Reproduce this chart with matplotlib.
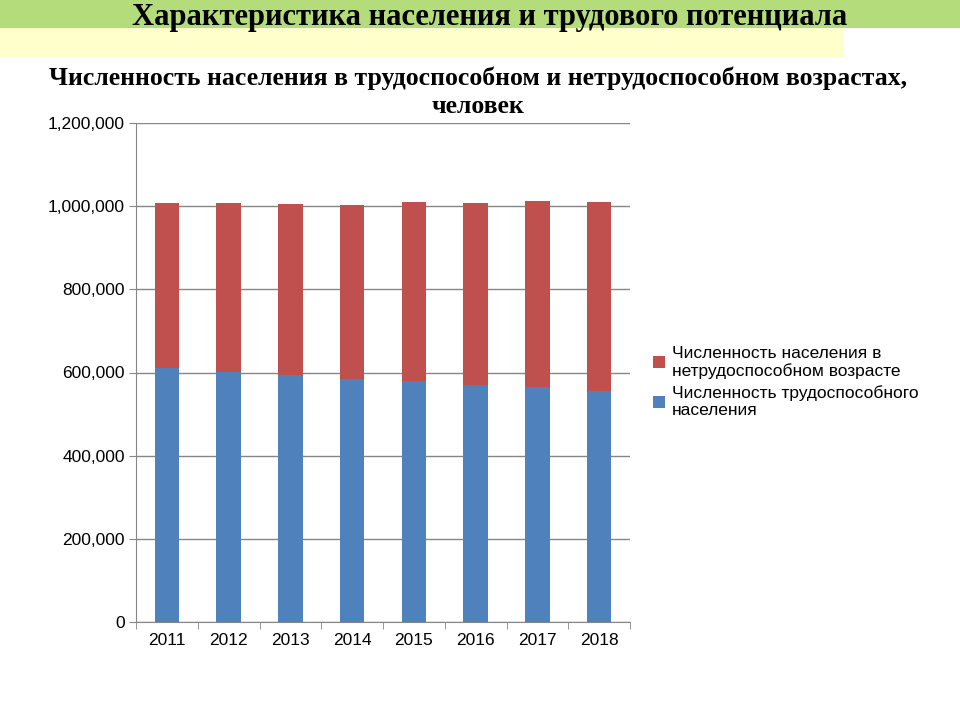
import matplotlib.pyplot as plt
from matplotlib.patches import Rectangle
from matplotlib.ticker import FuncFormatter, FixedLocator
import numpy as np

years = ['2011', '2012', '2013', '2014', '2015', '2016', '2017', '2018']
able_bodied = [610900, 602000, 593300, 583700, 580300, 570000, 565200, 554800]
not_able = [396800, 405000, 411300, 419200, 429000, 438500, 448100, 456100]
label_able = 'Численность трудоспособного\nнаселения'
label_not = 'Численность населения в\nнетрудоспособном возрасте'

BLUE = '#4F81BD'
RED = '#C0504D'
GRID = '#868686'

fig = plt.figure(figsize=(9.6, 7.2), dpi=100)

# header banner
fig.patches.append(Rectangle((0, 1 - 28 / 720), 1, 28 / 720, transform=fig.transFigure,
                             facecolor='#B5DC7A', edgecolor='none', zorder=0))
fig.patches.append(Rectangle((0, 1 - 57 / 720), 843 / 960, 29 / 720, transform=fig.transFigure,
                             facecolor='#FFFFCC', edgecolor='none', zorder=0))
fig.text(0.51, 1 - 25 / 720, 'Характеристика населения и трудового потенциала',
         ha='center', va='baseline', fontsize=22, fontweight='bold', family='Liberation Serif')
fig.text(0.498, 1 - 92 / 720,
         'Численность населения в трудоспособном и нетрудоспособном возрастах,\nчеловек',
         ha='center', va='center', fontsize=18.5, fontweight='bold', family='Liberation Serif',
         linespacing=1.3)

ax = fig.add_axes([136 / 960, 1 - 622 / 720, (630 - 136) / 960, (622 - 123) / 720])
x = np.arange(len(years))
ax.bar(x, able_bodied, width=0.4, color=BLUE, label=label_able, zorder=3)
ax.bar(x, not_able, width=0.4, bottom=able_bodied, color=RED, label=label_not, zorder=3)

ax.set_ylim(0, 1200000)
ax.set_xlim(-0.5, len(years) - 0.5)
ax.set_yticks(np.arange(0, 1200001, 200000))
ax.yaxis.set_major_formatter(FuncFormatter(lambda v, p: f'{int(v):,}'))
ax.set_xticks(x)
ax.set_xticklabels(years)
ax.xaxis.set_minor_locator(FixedLocator(np.arange(-0.5, len(years), 1.0)))
ax.tick_params(axis='x', which='major', length=0, labelsize=12.5, pad=8)
ax.tick_params(axis='x', which='minor', length=5, color=GRID)
ax.tick_params(axis='y', length=5, color=GRID, labelsize=12.5, pad=3)
for lab in ax.get_xticklabels() + ax.get_yticklabels():
    lab.set_family('Liberation Sans')

ax.grid(axis='y', color=GRID, linewidth=1, zorder=0)
for side in ['top', 'right']:
    ax.spines[side].set_visible(False)
for side in ['left', 'bottom']:
    ax.spines[side].set_color(GRID)

handles, labels = ax.get_legend_handles_labels()
fig.legend(handles[::-1], labels[::-1], loc='upper left', bbox_to_anchor=(637 / 960, 1 - 330 / 720),
           frameon=False, prop={'family': 'Liberation Sans', 'size': 12.5},
           handlelength=0.7, handleheight=0.7, handletextpad=0.4, labelspacing=0.35)

fig.savefig('out.png', dpi=100)
